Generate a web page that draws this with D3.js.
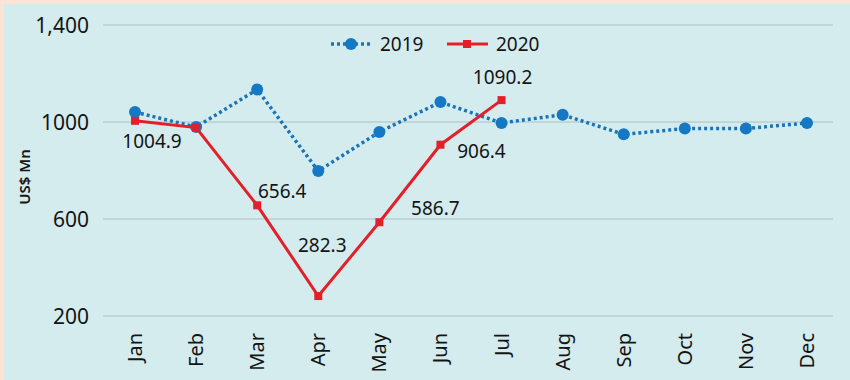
<!DOCTYPE html>
<html>
<head>
<meta charset="utf-8">
<script src="https://cdn.jsdelivr.net/npm/d3@7"></script>
<style>
  body { margin: 0; background: #d5ecef; }
  svg { display: block; font-family: "Noto Sans", "Open Sans", sans-serif; }
</style>
</head>
<body>
<div id="chart"></div>
<script>
// Chart data
var months = ["Jan", "Feb", "Mar", "Apr", "May", "Jun", "Jul", "Aug", "Sep", "Oct", "Nov", "Dec"];
var values2019 = [1041, 979, 1134, 798, 959, 1082, 996, 1030, 949, 973, 973, 996];
var values2020 = [1004.9, 977, 656.4, 282.3, 586.7, 906.4, 1090.2];
var labels2020 = ["1004.9", null, "656.4", "282.3", "586.7", "906.4", "1090.2"];
var yTicks = [200, 600, 1000, 1400];
var yTickText = ["200", "600", "1000", "1,400"];

var width = 850;
var height = 380;

var svg = d3.select("#chart")
  .append("svg")
  .attr("width", width)
  .attr("height", height);

// Background and peach frame
svg.append("rect").attr("width", width).attr("height", height).attr("fill", "#fbe4d5");
svg.append("rect").attr("x", 4).attr("y", 4).attr("width", width - 4).attr("height", height - 4).attr("fill", "#d5ecef");

var xScale = d3.scalePoint()
  .domain(months)
  .range([135, 807]);

var yScale = d3.scaleLinear()
  .domain([200, 1400])
  .range([316, 25]);

// Gridlines
svg.append("g")
  .selectAll("line")
  .data(yTicks)
  .enter()
  .append("line")
  .attr("x1", 103)
  .attr("x2", 833)
  .attr("y1", function(d) { return yScale(d); })
  .attr("y2", function(d) { return yScale(d); })
  .attr("stroke", "#aebfc3")
  .attr("stroke-width", 1.2);

// Y tick labels
svg.append("g")
  .selectAll("text")
  .data(yTicks)
  .enter()
  .append("text")
  .attr("x", 89)
  .attr("y", function(d) { return yScale(d); })
  .attr("dy", "0.36em")
  .attr("text-anchor", "end")
  .attr("font-size", 21)
  .attr("fill", "#141414")
  .text(function(d, i) { return yTickText[i]; });

// Y axis title
svg.append("text")
  .attr("transform", "translate(30,177)rotate(-90)")
  .attr("text-anchor", "middle")
  .attr("font-size", 15)
  .attr("font-weight", 600)
  .attr("fill", "#141414")
  .text("US$ Mn");

// Month labels
svg.append("g")
  .selectAll("text")
  .data(months)
  .enter()
  .append("text")
  .attr("transform", function(d) { return "translate(" + (xScale(d) + 7) + ",333)rotate(-90)"; })
  .attr("text-anchor", "end")
  .attr("font-size", 20)
  .attr("fill", "#141414")
  .text(function(d) { return d; });

var line = d3.line()
  .x(function(d, i) { return xScale(months[i]); })
  .y(function(d) { return yScale(d); });

// 2019 dotted line
svg.append("path")
  .datum(values2019)
  .attr("d", line)
  .attr("fill", "none")
  .attr("stroke", "#1b74b5")
  .attr("stroke-width", 3.5)
  .attr("stroke-dasharray", "3,3");

svg.append("g")
  .selectAll("circle")
  .data(values2019)
  .enter()
  .append("circle")
  .attr("cx", function(d, i) { return xScale(months[i]); })
  .attr("cy", function(d) { return yScale(d); })
  .attr("r", 6)
  .attr("fill", "#1478c4");

// 2020 solid line
svg.append("path")
  .datum(values2020)
  .attr("d", line)
  .attr("fill", "none")
  .attr("stroke", "#e3202a")
  .attr("stroke-width", 3);

svg.append("g")
  .selectAll("rect")
  .data(values2020)
  .enter()
  .append("rect")
  .attr("x", function(d, i) { return xScale(months[i]) - 4; })
  .attr("y", function(d) { return yScale(d) - 4; })
  .attr("width", 8)
  .attr("height", 8)
  .attr("fill", "#e3202a");

// Value labels for 2020 (offset from each point)
var labelOffsets = [[17, 20], null, [25, -14], [4, -51], [56, -14], [41, 6], [1, -23]];
svg.append("g")
  .selectAll("text")
  .data(values2020)
  .enter()
  .filter(function(d, i) { return labels2020[i] !== null; })
  .append("text")
  .attr("x", function(d) { var i = values2020.indexOf(d); return xScale(months[i]) + labelOffsets[i][0]; })
  .attr("y", function(d) { var i = values2020.indexOf(d); return yScale(d) + labelOffsets[i][1]; })
  .attr("dy", "0.36em")
  .attr("text-anchor", "middle")
  .attr("font-size", 19)
  .attr("fill", "#141414")
  .text(function(d) { return labels2020[values2020.indexOf(d)]; });

// Legend
var legend = svg.append("g").attr("transform", "translate(0,44)");
legend.append("line")
  .attr("x1", 331).attr("x2", 371)
  .attr("stroke", "#1b74b5").attr("stroke-width", 3.5).attr("stroke-dasharray", "3,3");
legend.append("circle").attr("cx", 351).attr("cy", 0).attr("r", 6).attr("fill", "#1478c4");
legend.append("text").attr("x", 380).attr("dy", "0.36em").attr("font-size", 19).attr("fill", "#141414").text("2019");
legend.append("line")
  .attr("x1", 447).attr("x2", 488)
  .attr("stroke", "#e3202a").attr("stroke-width", 3);
legend.append("rect").attr("x", 463).attr("y", -4).attr("width", 8).attr("height", 8).attr("fill", "#e3202a");
legend.append("text").attr("x", 496).attr("dy", "0.36em").attr("font-size", 19).attr("fill", "#141414").text("2020");
</script>
</body>
</html>
